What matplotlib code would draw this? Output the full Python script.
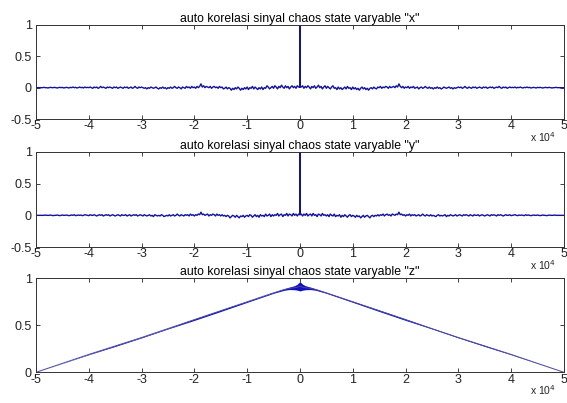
#!/usr/bin/env python3
"""Autocorrelation of the three chaos state variables (x, y, z)."""

import matplotlib

matplotlib.use("Agg")
import matplotlib.pyplot as plt
import numpy as np


# right half sampled every LAG_STEP lags (250 .. 50000), mirrored for negative lags
LAG_STEP = 250
PEAK_X = 1.0
PEAK_Y = 1.0
# value right next to lag 0 (the spike falls off within one sample)
NEAR_LAG = 40
NEAR_X = 0.01
NEAR_Y = 0.01

X_RIGHT = [
    0.01, 0.03, -0.01, 0.02, 0.00, 0.03, 0.01, -0.02, 0.02, 0.00,
    0.03, -0.01, 0.01, 0.04, 0.00, 0.02, -0.02, 0.01, 0.03, -0.01,
    0.02, 0.00, -0.02, 0.01, 0.03, -0.01, 0.00, -0.03, 0.01, -0.02,
    0.00, -0.03, -0.01, 0.01, -0.02, 0.02, -0.01, 0.00, -0.03, 0.01,
    -0.02, 0.00, -0.03, -0.01, -0.04, -0.01, 0.01, -0.02, 0.00, -0.03,
    -0.01, -0.04, -0.01, 0.00, -0.02, 0.01, -0.01, -0.02, 0.01, 0.00,
    0.02, -0.01, 0.01, 0.00, 0.02, 0.01, -0.01, 0.02, 0.00, 0.01,
    0.02, 0.00, 0.03, 0.01, 0.06, 0.02, 0.00, 0.02, -0.01, 0.01,
    0.00, 0.02, -0.01, 0.01, 0.00, 0.02, -0.01, 0.00, 0.01, -0.02,
    0.00, 0.01, -0.01, 0.00, 0.02, 0.00, -0.01, 0.01, -0.01, 0.00,
    -0.02, 0.00, -0.01, 0.01, -0.01, 0.00, -0.02, -0.01, 0.01, 0.00,
    -0.01, 0.00, 0.01, -0.01, 0.00, -0.02, 0.00, -0.01, 0.00, 0.01,
    0.00, 0.01, -0.01, 0.00, 0.02, 0.00, -0.01, 0.01, 0.00, -0.01,
    0.01, 0.00, 0.01, -0.01, 0.00, 0.01, 0.00, -0.01, 0.01, 0.00,
    0.01, -0.01, 0.00, 0.01, 0.00, 0.01, -0.01, 0.00, 0.01, 0.00,
    0.02, 0.00, -0.01, 0.01, 0.00, 0.01, -0.01, 0.00, 0.01, 0.00,
    0.005, 0.00, 0.01, -0.005, 0.005, 0.00, 0.01, 0.00, -0.005, 0.005,
    0.00, 0.01, 0.00, 0.005, -0.005, 0.00, 0.005, 0.00, -0.005, 0.005,
    0.00, 0.005, 0.00, -0.005, 0.00, 0.005, 0.00, 0.00, 0.005, 0.00,
    -0.005, 0.00, 0.00, 0.005, 0.00, 0.00, 0.00, 0.00, 0.00, 0.00,
]

Y_RIGHT = [
    0.02, -0.01, 0.02, 0.00, 0.03, -0.01, 0.01, 0.02, -0.01, 0.03,
    0.00, 0.01, -0.02, 0.02, 0.01, -0.01, 0.03, 0.00, 0.01, -0.01,
    0.01, -0.02, 0.02, 0.00, -0.01, 0.02, -0.02, 0.00, -0.01, 0.01,
    -0.03, 0.00, -0.02, 0.01, -0.01, -0.03, 0.00, 0.01, -0.02, 0.00,
    -0.01, -0.03, 0.00, -0.02, -0.01, -0.04, -0.02, 0.00, -0.03, -0.01,
    0.00, -0.02, -0.04, -0.01, 0.00, -0.02, 0.00, -0.01, 0.01, -0.01,
    0.01, 0.00, 0.02, -0.01, 0.01, 0.02, 0.00, 0.01, -0.01, 0.02,
    0.01, 0.00, 0.02, 0.01, 0.05, 0.01, 0.02, 0.00, 0.01, -0.01,
    0.01, 0.00, 0.02, -0.01, 0.01, 0.00, 0.01, -0.01, 0.00, 0.01,
    -0.01, 0.00, 0.02, 0.00, -0.01, 0.01, 0.00, -0.01, 0.01, -0.01,
    0.00, -0.01, -0.02, 0.00, 0.01, -0.01, 0.00, -0.01, 0.00, 0.01,
    -0.02, 0.00, -0.01, 0.01, 0.00, -0.01, 0.00, 0.01, -0.01, 0.00,
    0.01, 0.00, -0.01, 0.01, 0.00, 0.01, 0.00, -0.01, 0.01, 0.00,
    -0.01, 0.01, 0.00, 0.00, 0.01, -0.01, 0.00, 0.01, 0.00, -0.01,
    0.00, 0.01, 0.00, -0.01, 0.01, 0.00, 0.01, 0.00, -0.01, 0.01,
    0.00, 0.01, 0.00, -0.01, 0.00, 0.01, 0.00, 0.00, 0.01, -0.005,
    0.00, 0.005, 0.01, 0.00, -0.005, 0.005, 0.00, 0.005, 0.00, -0.005,
    0.01, 0.00, 0.005, 0.00, -0.005, 0.00, 0.005, 0.00, 0.00, 0.005,
    0.00, -0.005, 0.00, 0.005, 0.00, 0.00, -0.005, 0.00, 0.005, 0.00,
    0.00, 0.00, 0.005, 0.00, 0.00, 0.00, 0.00, 0.00, 0.00, 0.00,
]

# z: centre line and band half-width read at a few lags (right half, mirrored)
Z_LAGS = [0, 500, 1000, 2000, 3000, 5000, 10000, 15000, 20000,
          25000, 30000, 35000, 40000, 45000, 50000]
Z_CENTER = [0.915, 0.905, 0.90, 0.893, 0.88, 0.845, 0.75, 0.655, 0.56,
            0.465, 0.37, 0.28, 0.19, 0.095, 0.0]
Z_HALFWIDTH = [0.05, 0.032, 0.022, 0.013, 0.008, 0.005, 0.006, 0.008, 0.008,
               0.004, 0.004, 0.005, 0.003, 0.001, 0.0]

TITLES = [
    'auto korelasi sinyal chaos state varyable "x"',
    'auto korelasi sinyal chaos state varyable "y"',
    'auto korelasi sinyal chaos state varyable "z"',
]

LINE_COLOR = "#12129c"


def mirrored(right, near, peak):
    right = np.asarray(right, dtype=float)
    lags = np.concatenate([[NEAR_LAG], np.arange(1, len(right) + 1) * LAG_STEP])
    vals = np.concatenate([[near], right])
    x = np.concatenate([-lags[::-1], [0], lags])
    y = np.concatenate([vals[::-1], [peak], vals])
    return x, y


def style_axes(ax, yticks, ylim):
    ax.set_xlim(-50000, 50000)
    ax.set_ylim(*ylim)
    ax.set_xticks(np.arange(-5, 6) * 10000)
    ax.set_xticklabels([str(v) for v in range(-5, 6)])
    ax.set_yticks(yticks)
    ax.set_yticklabels([f"{v:g}" for v in yticks])
    ax.tick_params(direction="in", length=3, width=0.6, top=True, right=True,
                   labelsize=9, colors="#222222")
    ax.tick_params(axis="x", pad=1)
    ax.tick_params(axis="y", pad=3)
    for spine in ax.spines.values():
        spine.set_linewidth(0.7)
        spine.set_color("#333333")
    ax.text(0.985, -0.12, r"x 10$^4$", transform=ax.transAxes, ha="right",
            va="top", fontsize=7.5, color="#222222")


def main():
    plt.rcParams["font.family"] = ["Liberation Sans", "DejaVu Sans"]
    fig = plt.figure(figsize=(5.67, 4.03), dpi=100)
    left, width = 0.0635, 0.931
    ax1 = fig.add_axes([left, 0.7047, width, 0.2333])
    ax2 = fig.add_axes([left, 0.387, width, 0.236])
    ax3 = fig.add_axes([left, 0.0762, width, 0.2333])

    for ax, right, near, peak, title in [
        (ax1, X_RIGHT, NEAR_X, PEAK_X, TITLES[0]),
        (ax2, Y_RIGHT, NEAR_Y, PEAK_Y, TITLES[1]),
    ]:
        lag, val = mirrored(right, near, peak)
        ax.plot(lag, val, color=LINE_COLOR, linewidth=1.0)
        style_axes(ax, [-0.5, 0, 0.5, 1], (-0.5, 1))
        ax.set_title(title, fontsize=8.8, pad=2)

    zl = np.asarray(Z_LAGS, dtype=float)
    zc = np.asarray(Z_CENTER)
    zh = np.asarray(Z_HALFWIDTH)
    lag = np.concatenate([-zl[::-1], zl[1:]])
    center = np.concatenate([zc[::-1], zc[1:]])
    half = np.concatenate([zh[::-1], zh[1:]])
    ax3.fill_between(lag, center - half, center + half, color="#1010c0",
                     linewidth=0)
    ax3.plot(lag, center, color="#4a4a9a", linewidth=0.7)
    style_axes(ax3, [0, 0.5, 1], (0, 1))
    ax3.set_title(TITLES[2], fontsize=8.8, pad=2)

    fig.savefig("out.png", dpi=100)
    plt.close(fig)


if __name__ == "__main__":
    main()
